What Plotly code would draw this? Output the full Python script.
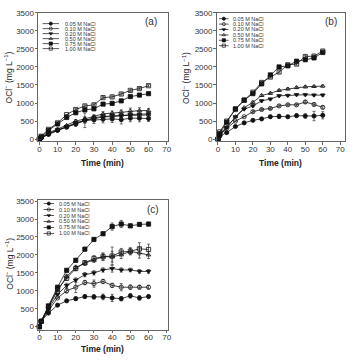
import plotly.graph_objects as go

W, H = 356, 360

times = [0, 1, 5, 10, 15, 20, 25, 30, 35, 40, 45, 50, 55, 60]
series_names = ["0.05 M NaCl", "0.10 M NaCl", "0.20 M NaCl", "0.50 M NaCl", "0.75 M NaCl", "1.00 M NaCl"]
symbols = ["circle", "circle-open", "triangle-down", "triangle-up-open", "square", "square-open"]

# Panel (a)
a_005 = [0, 30, 130, 240, 330, 420, 520, 530, 550, 560, 540, 580, 580, 570]
a_010 = [0, 40, 140, 250, 340, 420, 520, 600, 620, 620, 650, 660, 660, 670]
a_020 = [0, 40, 150, 260, 350, 450, 520, 560, 620, 650, 650, 680, 690, 700]
a_050 = [0, 50, 170, 280, 380, 500, 560, 620, 700, 720, 750, 780, 790, 790]
a_075 = [0, 60, 240, 420, 600, 730, 810, 840, 970, 990, 1060, 1180, 1220, 1260]
a_100 = [0, 80, 270, 450, 680, 820, 920, 950, 1150, 1170, 1250, 1350, 1400, 1480]
a_err_005 = [0, 0, 0, 0, 0, 60, 200, 100, 100, 100, 120, 100, 100, 80]
a_err_010 = [0, 0, 0, 0, 0, 50, 80, 60, 60, 60, 60, 60, 60, 60]
a_err_020 = [0, 0, 0, 0, 0, 40, 60, 60, 60, 60, 60, 60, 60, 60]
a_err_050 = [0, 0, 0, 0, 0, 40, 60, 50, 60, 60, 60, 80, 80, 60]
a_err_075 = [0, 0, 0, 0, 0, 30, 30, 30, 30, 30, 30, 30, 30, 30]
a_err_100 = [0, 0, 0, 0, 0, 30, 30, 30, 30, 30, 30, 30, 30, 30]

# Panel (b)
b_005 = [0, 80, 180, 350, 450, 520, 560, 620, 630, 620, 650, 640, 640, 660]
b_010 = [0, 100, 300, 500, 620, 760, 820, 850, 920, 950, 950, 1030, 960, 880]
b_020 = [0, 120, 320, 620, 830, 920, 1060, 1110, 1200, 1210, 1230, 1230, 1220, 1220]
b_050 = [0, 130, 340, 620, 870, 1020, 1210, 1270, 1350, 1390, 1430, 1450, 1460, 1470]
b_075 = [0, 150, 470, 840, 1080, 1260, 1530, 1780, 2000, 2030, 2160, 2200, 2250, 2400]
b_100 = [0, 200, 500, 820, 1080, 1300, 1570, 1720, 1860, 2060, 2080, 2290, 2300, 2440]
b_err_005 = [0, 0, 0, 0, 0, 30, 30, 40, 60, 40, 50, 60, 130, 100]
b_err_010 = [0, 0, 0, 0, 0, 30, 30, 30, 30, 30, 30, 40, 40, 40]
b_err_020 = [0, 0, 0, 0, 0, 30, 30, 30, 30, 30, 30, 30, 30, 30]
b_err_050 = [0, 0, 0, 0, 0, 30, 30, 30, 30, 30, 30, 30, 30, 30]
b_err_075 = [0, 0, 0, 0, 0, 30, 30, 30, 30, 30, 30, 30, 30, 30]
b_err_100 = [0, 0, 0, 0, 0, 30, 30, 30, 30, 30, 30, 30, 30, 30]

# Panel (c)
c_005 = [0, 150, 380, 600, 720, 780, 840, 830, 830, 800, 780, 860, 800, 840]
c_010 = [0, 150, 450, 800, 1000, 1100, 1230, 1200, 1260, 1150, 1100, 1100, 1100, 1100]
c_020 = [0, 150, 500, 900, 1150, 1300, 1450, 1500, 1580, 1620, 1580, 1580, 1540, 1540]
c_050 = [0, 150, 550, 1000, 1400, 1650, 1770, 1850, 1950, 1950, 2000, 2100, 2060, 2000]
c_075 = [0, 150, 580, 1100, 1570, 1850, 2160, 2430, 2590, 2790, 2860, 2810, 2850, 2860]
c_100 = [0, 150, 550, 1050, 1350, 1620, 1780, 1900, 1950, 1970, 2080, 2100, 2170, 2150]
c_err_005 = [0, 0, 0, 0, 40, 50, 50, 60, 80, 100, 60, 60, 60, 50]
c_err_010 = [0, 0, 0, 0, 60, 150, 60, 100, 60, 60, 100, 60, 50, 50]
c_err_020 = [0, 0, 0, 0, 60, 60, 60, 60, 60, 100, 60, 50, 50, 50]
c_err_050 = [0, 0, 0, 0, 60, 60, 60, 60, 100, 150, 100, 80, 150, 100]
c_err_075 = [0, 0, 0, 0, 40, 50, 50, 50, 50, 100, 100, 50, 50, 50]
c_err_100 = [0, 0, 0, 0, 60, 60, 60, 80, 100, 250, 100, 100, 170, 150]

y_ticks = [0, 500, 1000, 1500, 2000, 2500, 3000, 3500]
x_ticks = [0, 10, 20, 30, 40, 50, 60, 70]

panels = [
    dict(label="(a)", data=[a_005, a_010, a_020, a_050, a_075, a_100],
         err=[a_err_005, a_err_010, a_err_020, a_err_050, a_err_075, a_err_100],
         xd=(38, 169), yd=(9, 140), xr=(-0.5, 70.5), yr=(-60, 3500),
         lab=(152, 18), leg=dict(x0=42, x1=59, xt=63, y0=20, dy=5.1),
         ytitle=(8, 75), xtitle=(103, 162)),
    dict(label="(b)", data=[b_005, b_010, b_020, b_050, b_075, b_100],
         err=[b_err_005, b_err_010, b_err_020, b_err_050, b_err_075, b_err_100],
         xd=(219, 349), yd=(9, 140), xr=(-0.6, 72.8), yr=(-60, 3500),
         lab=(335, 18), leg=dict(x0=221, x1=231, xt=233, y0=15, dy=5.5),
         ytitle=(188, 75), xtitle=(283, 162)),
    dict(label="(c)", data=[c_005, c_010, c_020, c_050, c_075, c_100],
         err=[c_err_005, c_err_010, c_err_020, c_err_050, c_err_075, c_err_100],
         xd=(38, 169), yd=(200, 332), xr=(-0.5, 70.5), yr=(-80, 3527),
         lab=(154, 210), leg=dict(x0=43, x1=54, xt=57, y0=203.5, dy=6.1),
         ytitle=(9, 265), xtitle=(103, 352)),
]


def pxx(p):
    return p / W


def pxy(p):
    return 1 - p / H


fig = go.Figure()
annotations = []
layout_axes = {}
FONT = "Liberation Sans, Arial, sans-serif"
INK = "#222"

for k, p in enumerate(panels):
    n = k + 1
    xa = "x" if n == 1 else f"x{n}"
    ya = "y" if n == 1 else f"y{n}"
    xkey = "xaxis" if n == 1 else f"xaxis{n}"
    ykey = "yaxis" if n == 1 else f"yaxis{n}"
    axstyle = dict(showgrid=False, zeroline=False, showline=True, mirror=True,
                   linecolor="#666", linewidth=0.8, ticks="outside", ticklen=3,
                   tickwidth=0.8, tickcolor="#666",
                   tickfont=dict(family=FONT, size=8, color="#333"))
    layout_axes[xkey] = dict(axstyle, domain=[pxx(p["xd"][0]), pxx(p["xd"][1])],
                             range=list(p["xr"]), tickvals=x_ticks, anchor=ya,
                             ticklabelstandoff=-3)
    layout_axes[ykey] = dict(axstyle, domain=[pxy(p["yd"][1]), pxy(p["yd"][0])],
                             range=list(p["yr"]), tickvals=y_ticks, anchor=xa,
                             ticklabelstandoff=-1)
    for i, vals in enumerate(p["data"]):
        fig.add_trace(go.Scatter(
            x=times, y=vals, mode="lines+markers", xaxis=xa, yaxis=ya,
            line=dict(color="#111", width=0.8),
            marker=dict(symbol=symbols[i], size=4.2, color="#111",
                        line=dict(color="#111", width=0.8)),
            error_y=dict(type="data", array=p["err"][i], color="#333",
                         thickness=0.7, width=1.5),
            showlegend=False, cliponaxis=False))

    # legend (drawn on helper axes)
    L = p["leg"]
    ln = 3 + n
    lxa, lya = f"x{ln}", f"y{ln}"
    ytop = L["y0"] - L["dy"] / 2
    ybot = L["y0"] + L["dy"] * 5.5
    layout_axes[f"xaxis{ln}"] = dict(domain=[pxx(L["x0"]), pxx(L["x1"])], range=[0, 1],
                                     visible=False, anchor=lya, fixedrange=True)
    layout_axes[f"yaxis{ln}"] = dict(domain=[pxy(ybot), pxy(ytop)], range=[5.5, -0.5],
                                     visible=False, anchor=lxa, fixedrange=True)
    for i, name in enumerate(series_names):
        fig.add_trace(go.Scatter(x=[0, 1], y=[i, i], mode="lines", xaxis=lxa, yaxis=lya,
                                 line=dict(color="#111", width=0.7), showlegend=False,
                                 hoverinfo="skip"))
        fig.add_trace(go.Scatter(x=[0.5], y=[i], mode="markers", xaxis=lxa, yaxis=lya,
                                 marker=dict(symbol=symbols[i], size=3.2, color="#111",
                                             line=dict(color="#111", width=0.7)),
                                 showlegend=False, hoverinfo="skip"))
        annotations.append(dict(x=pxx(L["xt"]), y=pxy(L["y0"] + L["dy"] * i),
                                xref="paper", yref="paper", xanchor="left", yanchor="middle",
                                text=name, showarrow=False,
                                font=dict(family=FONT, size=5.5, color="#333")))

    annotations.append(dict(x=pxx(p["lab"][0]), y=pxy(p["lab"][1]), xref="paper", yref="paper",
                            text=p["label"], showarrow=False, xanchor="center", yanchor="middle",
                            font=dict(family=FONT, size=10, color="#333")))
    annotations.append(dict(x=pxx(p["xtitle"][0]), y=pxy(p["xtitle"][1]), xref="paper", yref="paper",
                            text="<b>Time (min)</b>", showarrow=False, xanchor="center",
                            yanchor="middle", font=dict(family=FONT, size=8.5, color=INK)))
    annotations.append(dict(x=pxx(p["ytitle"][0]), y=pxy(p["ytitle"][1]), xref="paper", yref="paper",
                            text="OCl<sup>−</sup> (mg L<sup>−1</sup>)", showarrow=False,
                            textangle=-90, xanchor="center", yanchor="middle",
                            font=dict(family=FONT, size=8.5, color=INK)))

fig.update_layout(width=W, height=H, margin=dict(l=0, r=0, t=0, b=0),
                  paper_bgcolor="white", plot_bgcolor="white",
                  showlegend=False, annotations=annotations, **layout_axes)

fig.write_html("out.html")
